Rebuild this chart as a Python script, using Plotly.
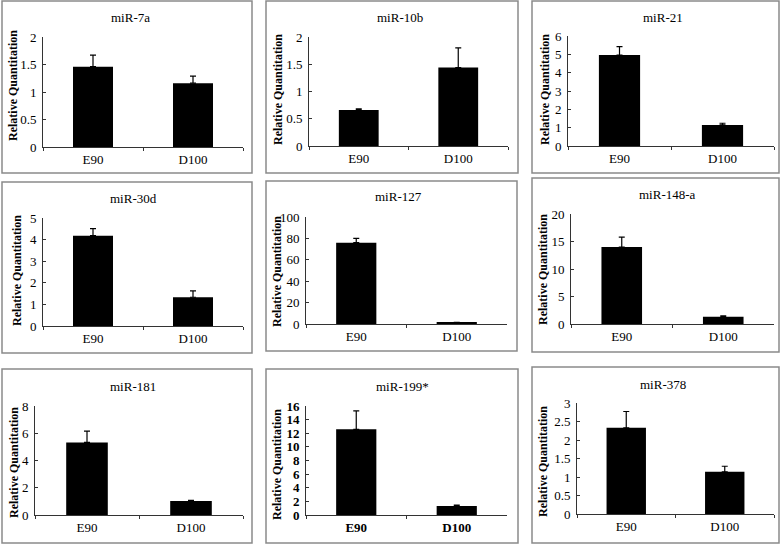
import plotly.graph_objects as go

W, H = 784, 544

categories = ["E90", "D100"]

titles = ["miR-7a", "miR-10b", "miR-21", "miR-30d", "miR-127", "miR-148-a",
          "miR-181", "miR-199*", "miR-378"]

mir7a_vals = [1.46, 1.16];   mir7a_err = [0.21, 0.13]
mir10b_vals = [0.66, 1.44];  mir10b_err = [0.02, 0.36]
mir21_vals = [4.96, 1.15];   mir21_err = [0.46, 0.09]
mir30d_vals = [4.18, 1.33];  mir30d_err = [0.33, 0.30]
mir127_vals = [76.0, 1.2];   mir127_err = [4.0, 0.4]
mir148a_vals = [14.0, 1.33]; mir148a_err = [1.8, 0.17]
mir181_vals = [5.33, 1.03];  mir181_err = [0.82, 0.05]
mir199_vals = [12.58, 1.32]; mir199_err = [2.7, 0.15]
mir378_vals = [2.33, 1.14];  mir378_err = [0.44, 0.15]

values = [mir7a_vals, mir10b_vals, mir21_vals, mir30d_vals, mir127_vals,
          mir148a_vals, mir181_vals, mir199_vals, mir378_vals]
errors = [mir7a_err, mir10b_err, mir21_err, mir30d_err, mir127_err,
          mir148a_err, mir181_err, mir199_err, mir378_err]

y_max = [2, 2, 6, 5, 100, 20, 8, 16, 3]
y_dtick = [0.5, 0.5, 1, 1, 20, 5, 2, 2, 0.5]

y_title = "Relative Quantitation"

# layout geometry (pixels): plot area x0, x1, y_top, y_bottom
plot_px = [
    (43, 243, 37, 147), (309, 508, 37, 146), (568, 774, 36, 146),
    (43, 243, 218, 326), (306, 507, 217, 324), (571, 774, 214, 324),
    (35, 243, 406, 515), (306, 507, 406, 515), (577, 774, 403, 514),
]
# panel borders: x0, x1, y0, y1
border_px = [
    (2, 252, 1, 173), (266, 518, 1, 173), (532, 779, 1, 173),
    (2, 252, 182, 353), (266, 517, 181, 351), (532, 779, 178, 352),
    (2, 252, 369, 543), (266, 518, 369, 543), (532, 779, 367, 543),
]
# title centre (x, y)
title_px = [(130, 17), (400, 17), (663, 17), (133, 198), (398, 197), (667, 195),
            (133, 386), (402, 386), (663, 384)]
# y-title centre (x, y)
ytitle_px = [(13, 86), (278, 90), (545, 90), (17, 271), (277, 272), (543, 270),
             (14, 463), (277, 465), (543, 462)]

def px(x):
    return x / W

def py(y):
    return 1 - y / H

fig = go.Figure()
layout = dict(
    template="none",
    width=W, height=H, margin=dict(l=0, r=0, t=0, b=0, pad=0),
    paper_bgcolor="white", plot_bgcolor="white", showlegend=False,
    bargap=0.6, font=dict(family="Liberation Serif", size=12, color="black"),
)
shapes = []
annotations = []

for i in range(9):
    n = "" if i == 0 else str(i + 1)
    bold = (i == 7)
    tfont = dict(family="Liberation Serif", size=13, color="black",
                 weight="bold" if bold else "normal")
    fig.add_trace(go.Bar(
        x=categories, y=values[i], xaxis="x" + n, yaxis="y" + n,
        marker=dict(color="black", line=dict(width=0)),
        width=0.4,
        error_y=dict(type="data", symmetric=False, array=errors[i],
                     arrayminus=[0, 0], color="black", thickness=1.2, width=3),
    ))
    x0, x1, yt, yb = plot_px[i]
    layout["xaxis" + n] = dict(
        domain=[px(x0), px(x1)], anchor="y" + n, type="category",
        range=[-0.5, 1.5], automargin=False,
        showline=True, linecolor="#333333", linewidth=1,
        ticks="outside", tickson="boundaries", ticklen=3, tickcolor="#333333",
        tickfont=tfont, showgrid=False, zeroline=False, fixedrange=True,
    )
    layout["yaxis" + n] = dict(
        domain=[py(yb), py(yt)], anchor="x" + n, range=[0, y_max[i]],
        automargin=False, ticklabelstandoff=3,
        dtick=y_dtick[i], tick0=0, showline=True, linecolor="#333333", linewidth=1,
        ticks="inside", ticklen=3, tickcolor="#333333", tickfont=tfont,
        showgrid=False, zeroline=False, fixedrange=True,
    )
    bx0, bx1, by0, by1 = border_px[i]
    shapes.append(dict(type="rect", xref="paper", yref="paper",
                       x0=px(bx0), x1=px(bx1), y0=py(by1), y1=py(by0),
                       line=dict(color="#8a8a8a", width=1.5)))
    tx, ty = title_px[i]
    annotations.append(dict(text=titles[i], xref="paper", yref="paper",
                            x=px(tx), y=py(ty), showarrow=False,
                            xanchor="center", yanchor="middle",
                            font=dict(family="Liberation Serif", size=13, color="black")))
    yx, yy = ytitle_px[i]
    annotations.append(dict(text=y_title, xref="paper", yref="paper",
                            x=px(yx), y=py(yy), showarrow=False, textangle=-90,
                            xanchor="center", yanchor="middle",
                            font=dict(family="Liberation Serif", size=12,
                                      color="black", weight="bold")))

layout["shapes"] = shapes
layout["annotations"] = annotations
fig.update_layout(**layout)
fig.write_html("out.html", config={"displayModeBar": False},
               post_script="document.body.style.margin='0';document.body.style.overflow='hidden';")
